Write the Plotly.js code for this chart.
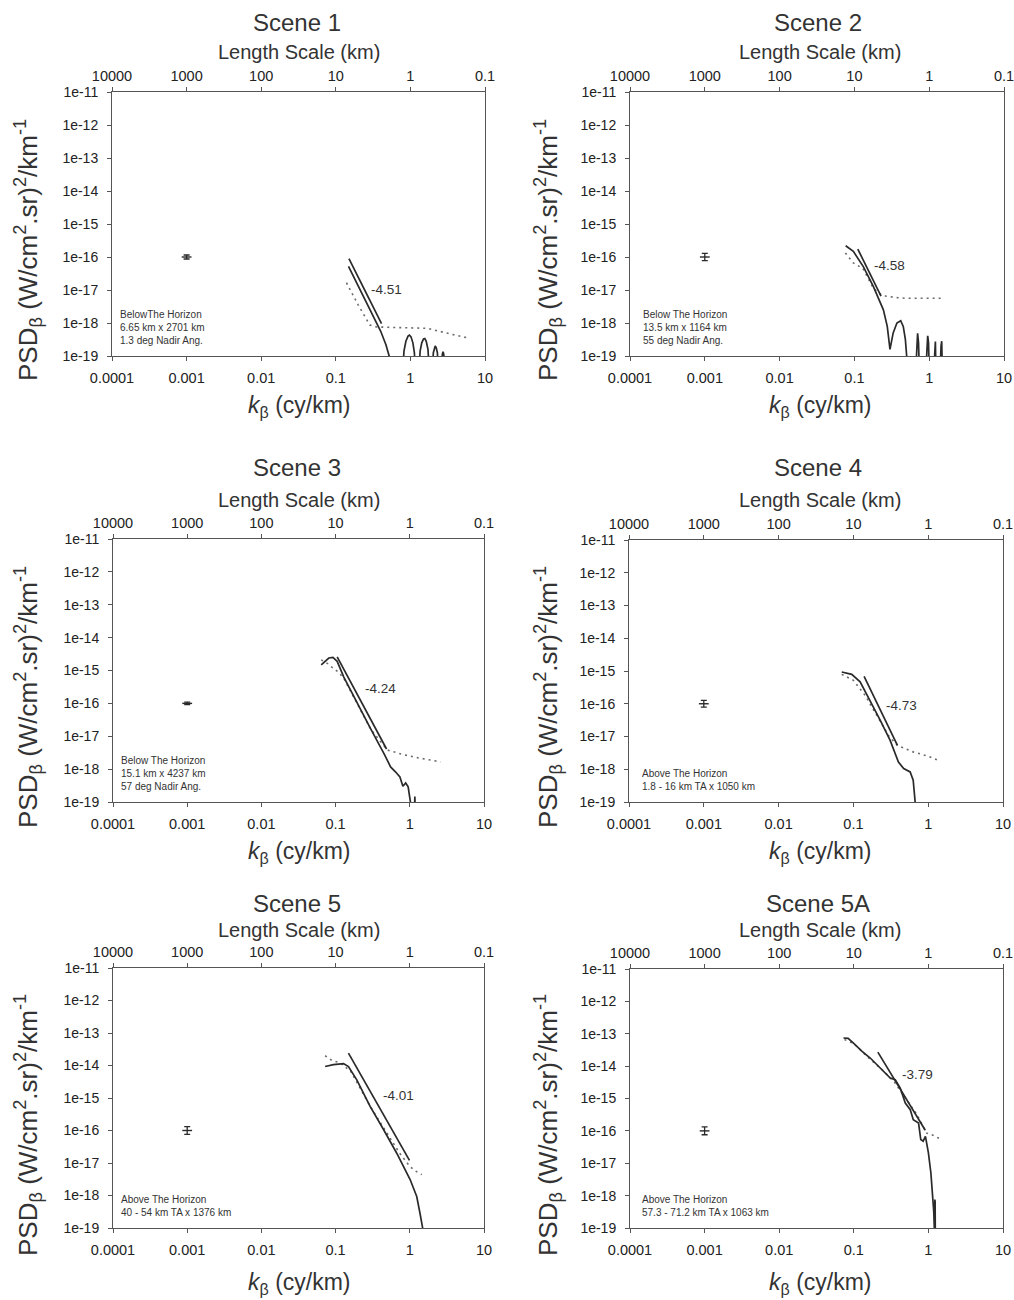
<!DOCTYPE html>
<html><head><meta charset="utf-8">
<script src="https://cdn.plot.ly/plotly-3.0.1.min.js"></script>
<style>html,body{margin:0;padding:0;background:#fff}#chart{width:1014px;height:1300px}</style>
</head><body><div id="chart"></div>
<script>
// ---------------- DATA ----------------
const sceneNames = ['Scene 1', 'Scene 2', 'Scene 3', 'Scene 4', 'Scene 5', 'Scene 5A'];
const slopeLabels = ['-4.51', '-4.58', '-4.24', '-4.73', '-4.01', '-3.79'];
const sceneNotes = [
  'BelowThe Horizon<br>6.65 km x 2701 km<br>1.3 deg Nadir Ang.',
  'Below The Horizon<br>13.5 km x 1164 km<br>55 deg Nadir Ang.',
  'Below The Horizon<br>15.1 km x 4237 km<br>57 deg Nadir Ang.',
  'Above The Horizon<br>1.8 - 16 km TA x 1050 km',
  'Above The Horizon<br>40 - 54 km TA x 1376 km',
  'Above The Horizon<br>57.3 - 71.2 km TA x 1063 km'
];
const kTickVals = [0.0001, 0.001, 0.01, 0.1, 1, 10];
const kTickText = ['0.0001', '0.001', '0.01', '0.1', '1', '10'];
const lengthTickText = ['10000', '1000', '100', '10', '1', '0.1'];
const psdTickVals = [1e-19, 1e-18, 1e-17, 1e-16, 1e-15, 1e-14, 1e-13, 1e-12, 1e-11];
const psdTickText = ['1e-19', '1e-18', '1e-17', '1e-16', '1e-15', '1e-14', '1e-13', '1e-12', '1e-11'];

// slope label positions (k, PSD)
const slopeLabelK = [0.48, 0.293, 0.40, 0.435, 0.70, 0.716];
const slopeLabelP = [1.05e-17, 5.4e-17, 2.9e-16, 8.9e-17, 1.17e-15, 5.5e-15];

// error-bar marker (k, PSD, +err, -err)
const errK = [0.001, 0.001, 0.001, 0.001, 0.001, 0.001];
const errP = [1e-16, 1e-16, 1e-16, 1e-16, 1e-16, 1e-16];
const errPlus = [1.5e-17, 2.9e-17, 9.6e-18, 2.6e-17, 3.2e-17, 3.2e-17];
const errMinus = [1.3e-17, 2.2e-17, 8.8e-18, 2.1e-17, 2.4e-17, 2.4e-17];

// Scene 1
const k1Fit = [0.15, 0.41];
const p1Fit = [8.9e-17, 9.5e-19];
const k1Psd = [0.148, 0.2, 0.3, 0.4, 0.47, 0.52, 0.60, 0.79, 0.82, 0.87, 0.93, 0.97, 1.02, 1.08, 1.13, 1.17, 1.30, 1.35, 1.42, 1.50, 1.56, 1.63, 1.72, 1.80, 1.97, 2.03, 2.10, 2.15, 2.22, 2.30, 2.37, 2.62, 2.68, 2.74, 2.80, 2.86];
const p1Psd = [5.2e-17, 1.35e-17, 2.2e-18, 5.6e-19, 2.2e-19, 8.9e-20, 3.2e-20, 3.2e-20, 1.41e-19, 2.8e-19, 4.0e-19, 4.3e-19, 3.8e-19, 2.5e-19, 1.26e-19, 3.2e-20, 3.2e-20, 1.41e-19, 2.5e-19, 3.3e-19, 3.4e-19, 2.8e-19, 1.58e-19, 3.2e-20, 3.2e-20, 1.26e-19, 1.86e-19, 2.0e-19, 1.78e-19, 1.26e-19, 3.2e-20, 3.2e-20, 1.12e-19, 1.35e-19, 1.12e-19, 3.2e-20];
const k1Dot = [0.139, 0.2, 0.286, 0.35, 0.5, 1.0, 1.7, 3.0, 6.3];
const p1Dot = [1.66e-17, 3.5e-18, 8.7e-19, 7.6e-19, 7.4e-19, 7.2e-19, 6.9e-19, 5.0e-19, 3.4e-19];

// Scene 2
const k2Fit = [0.111, 0.227];
const p2Fit = [1.74e-16, 6.5e-18];
const k2Psd = [0.0764, 0.0968, 0.1315, 0.179, 0.244, 0.275, 0.299, 0.33, 0.37, 0.416, 0.45, 0.48, 0.50, 0.53, 0.66, 0.68, 0.70, 0.72, 0.74, 0.90, 0.93, 0.955, 0.98, 1.00, 1.15, 1.19, 1.21, 1.23, 1.40, 1.44, 1.47, 1.50];
const p2Psd = [2.19e-16, 1.48e-16, 5.1e-17, 1.29e-17, 2.5e-18, 7.9e-19, 1.58e-19, 5.0e-19, 1.0e-18, 1.17e-18, 7.9e-19, 3.2e-19, 1.0e-19, 3.2e-20, 3.2e-20, 2.5e-19, 4.9e-19, 2.5e-19, 3.2e-20, 3.2e-20, 2.5e-19, 4.1e-19, 2.5e-19, 3.2e-20, 3.2e-20, 2.0e-19, 2.75e-19, 3.2e-20, 3.2e-20, 2.0e-19, 2.8e-19, 3.2e-20];
const k2Dot = [0.0758, 0.0968, 0.13, 0.18, 0.215, 0.26, 0.35, 0.5, 0.8, 1.1, 1.47];
const p2Dot = [1.32e-16, 6.6e-17, 4.5e-17, 1.12e-17, 7.9e-18, 6.6e-18, 5.9e-18, 5.6e-18, 5.6e-18, 5.6e-18, 5.6e-18];

// Scene 3
const k3Fit = [0.105, 0.486];
const p3Fit = [2.6e-15, 4.1e-18];
const k3Psd = [0.064, 0.072, 0.081, 0.092, 0.105, 0.129, 0.195, 0.296, 0.456, 0.551, 0.64, 0.736, 0.807, 0.88, 0.95, 1.0, 1.03, 1.1, 1.15, 1.17, 1.19, 1.25];
const p3Psd = [1.48e-15, 1.9e-15, 2.4e-15, 2.5e-15, 1.9e-15, 6.3e-16, 1.0e-16, 1.7e-17, 2.75e-18, 1.17e-18, 8.3e-19, 5.75e-19, 3.0e-19, 3.8e-19, 2.9e-19, 1.41e-19, 6.3e-20, 3.2e-20, 3.2e-20, 1.48e-19, 3.2e-20, 3.2e-20];
const k3Dot = [0.064, 0.08, 0.0955, 0.11, 0.13, 0.2, 0.3, 0.5, 0.8, 1.3, 2.0, 2.6];
const p3Dot = [2.1e-15, 1.58e-15, 1.1e-15, 8.9e-16, 5.6e-16, 8.9e-17, 1.58e-17, 3.8e-18, 2.8e-18, 2.2e-18, 1.9e-18, 1.66e-18];

// Scene 4
const k4Fit = [0.139, 0.388];
const p4Fit = [6.9e-16, 5.4e-18];
const k4Psd = [0.0698, 0.095, 0.123, 0.167, 0.227, 0.31, 0.40, 0.47, 0.574, 0.63, 0.66, 0.68, 0.70];
const p4Psd = [9.3e-16, 7.9e-16, 4.7e-16, 1.29e-16, 3.2e-17, 7.6e-18, 1.66e-18, 1.05e-18, 8.3e-19, 4.6e-19, 1.58e-19, 7.9e-20, 3.2e-20];
const k4Dot = [0.0698, 0.1, 0.143, 0.2, 0.3, 0.388, 0.6, 1.0, 1.37];
const p4Dot = [7.9e-16, 5.2e-16, 1.82e-16, 5.0e-17, 1.0e-17, 5.4e-18, 3.5e-18, 2.5e-18, 1.86e-18];

// Scene 5
const k5Fit = [0.149, 0.99];
const p5Fit = [2.4e-14, 1.2e-17];
const k5Psd = [0.0723, 0.0935, 0.128, 0.149, 0.193, 0.292, 0.442, 0.667, 1.01, 1.24, 1.37, 1.45, 1.49, 1.52];
const p5Psd = [9.3e-15, 1.07e-14, 1.15e-14, 9.3e-15, 3.6e-15, 5.5e-16, 1.07e-16, 2.0e-17, 3.1e-18, 9.3e-19, 2.9e-19, 1.41e-19, 1.0e-19, 3.2e-20];
const k5Dot = [0.0723, 0.09, 0.116, 0.16, 0.3, 0.5, 0.73, 1.0, 1.2, 1.45];
const p5Dot = [2.0e-14, 1.41e-14, 1.2e-14, 6.6e-15, 5.0e-16, 7.9e-17, 2.0e-17, 7.9e-18, 5.6e-18, 4.4e-18];

// Scene 5A
const k6Fit = [0.21, 0.908];
const p6Fit = [2.7e-14, 1.05e-16];
const k6Psd = [0.0728, 0.084, 0.099, 0.128, 0.166, 0.215, 0.265, 0.308, 0.359, 0.419, 0.49, 0.571, 0.627, 0.738, 0.79, 0.85, 0.913, 1.0, 1.08, 1.14, 1.18, 1.20, 1.21, 1.215, 1.22, 1.225, 1.23, 1.235, 1.24];
const p6Psd = [7.4e-14, 7.2e-14, 5.1e-14, 2.9e-14, 1.78e-14, 9.8e-15, 6.2e-15, 4.3e-15, 3.8e-15, 2.1e-15, 7.2e-16, 4.5e-16, 2.2e-16, 1.74e-16, 5.4e-17, 4.8e-17, 6.8e-17, 2.1e-17, 5.0e-18, 1.2e-18, 3.2e-19, 1.0e-19, 7.1e-19, 3.2e-20, 7.6e-19, 3.2e-20, 7.1e-19, 3.2e-20, 3.2e-20];
const k6Dot = [0.075, 0.1, 0.15, 0.25, 0.35, 0.5, 0.7, 0.95, 1.2, 1.44];
const p6Dot = [6.6e-14, 5.0e-14, 2.0e-14, 7.1e-15, 3.2e-15, 1.0e-15, 3.2e-16, 8.5e-17, 7.1e-17, 5.6e-17];

// ---------------- LAYOUT (positions in page pixels) ----------------
const W = 1014, H = 1300;
const boxes = [ // [left, right, top, bottom]
  [112, 485, 92, 356], [630, 1004, 92, 356],
  [113, 484, 539, 802], [629, 1003, 540, 802],
  [113, 484, 968, 1228], [630, 1003, 969, 1228]
];
const titlePos = [ // scene title (x,y), length title y, x-title y, y-title (x,y)
  {sx: 297, sy: 22, ly: 52, xty: 407, ytx: 28, yty: 250},
  {sx: 818, sy: 22, ly: 52, xty: 407, ytx: 548, yty: 250},
  {sx: 297, sy: 467, ly: 500, xty: 852, ytx: 28, yty: 697},
  {sx: 818, sy: 467, ly: 500, xty: 852, ytx: 548, yty: 697},
  {sx: 297, sy: 903, ly: 930, xty: 1283, ytx: 28, yty: 1125},
  {sx: 818, sy: 903, ly: 930, xty: 1283, ytx: 548, yty: 1125}
];
const noteX = [0.017, 0.03, 0.017, 0.029, 0.017, 0.027];

const series = [
  [k1Psd, p1Psd, k1Fit, p1Fit, k1Dot, p1Dot],
  [k2Psd, p2Psd, k2Fit, p2Fit, k2Dot, p2Dot],
  [k3Psd, p3Psd, k3Fit, p3Fit, k3Dot, p3Dot],
  [k4Psd, p4Psd, k4Fit, p4Fit, k4Dot, p4Dot],
  [k5Psd, p5Psd, k5Fit, p5Fit, k5Dot, p5Dot],
  [k6Psd, p6Psd, k6Fit, p6Fit, k6Dot, p6Dot]
];

const FONT = 'Liberation Sans, Arial, sans-serif';
const INK = '#2a2a2a';
const TXT = '#333333';
const px = v => v / W, py = v => 1 - v / H;

const traces = [];
const layout = {
  width: W, height: H, showlegend: false,
  margin: {l: 0, r: 0, t: 0, b: 0},
  paper_bgcolor: '#fff', plot_bgcolor: '#fff',
  font: {family: FONT, color: TXT},
  annotations: []
};

for (let i = 0; i < 6; i++) {
  const xb = 'x' + (2 * i + 1 === 1 ? '' : (2 * i + 1));
  const xt = 'x' + (2 * i + 2);
  const yy = 'y' + (i === 0 ? '' : (i + 1));
  const xbKey = 'xaxis' + (2 * i + 1 === 1 ? '' : (2 * i + 1));
  const xtKey = 'xaxis' + (2 * i + 2);
  const yKey = 'yaxis' + (i === 0 ? '' : (i + 1));
  const [L, R, T, B] = boxes[i];
  const dom = [px(L), px(R)];
  const [kP, pP, kF, pF, kD, pD] = series[i];

  traces.push({x: kD, y: pD, xaxis: xb, yaxis: yy, mode: 'lines', type: 'scatter',
    line: {color: '#6a6a6a', width: 1.6, dash: '2px,4px'}, hoverinfo: 'skip'});
  traces.push({x: kP, y: pP, xaxis: xb, yaxis: yy, mode: 'lines', type: 'scatter',
    line: {color: INK, width: 1.7}, hoverinfo: 'skip'});
  traces.push({x: kF, y: pF, xaxis: xb, yaxis: yy, mode: 'lines', type: 'scatter',
    line: {color: INK, width: 1.7}, hoverinfo: 'skip'});
  traces.push({x: [errK[i]], y: [errP[i]], xaxis: xb, yaxis: yy, mode: 'markers', type: 'scatter',
    marker: {symbol: 'line-ew-open', size: 7, color: INK, line: {color: INK, width: 1.4}},
    error_y: {type: 'data', symmetric: false, array: [errPlus[i]], arrayminus: [errMinus[i]],
      color: INK, thickness: 1.3, width: 3}, hoverinfo: 'skip'});
  traces.push({x: [], y: [], xaxis: xt, yaxis: yy, mode: 'lines', type: 'scatter', hoverinfo: 'skip'});

  const axCommon = {
    type: 'log', showgrid: false, zeroline: false, showline: true,
    linecolor: '#555', linewidth: 1, ticks: 'outside', ticklen: 4, tickcolor: '#555',
    ticklabeloverflow: 'allow',
    tickfont: {family: FONT, size: 14.5, color: '#222'}
  };
  layout[xbKey] = Object.assign({}, axCommon, {
    domain: dom, anchor: yy, range: [-4, 1],
    tickmode: 'array', tickvals: kTickVals, ticktext: kTickText, ticklabelstandoff: 5
  });
  layout[xtKey] = Object.assign({}, axCommon, {
    domain: dom, anchor: yy, overlaying: xb, side: 'top', range: [-4, 1],
    tickmode: 'array', tickvals: kTickVals, ticktext: lengthTickText
  });
  layout[yKey] = Object.assign({}, axCommon, {
    domain: [py(B), py(T)], anchor: xb, range: [-19, -11], mirror: true,
    tickmode: 'array', tickvals: psdTickVals, ticktext: psdTickText, ticklabelstandoff: 6,
    tickfont: {family: FONT, size: 14, color: '#222'}
  });

  const tp = titlePos[i];
  layout.annotations.push(
    {xref: 'paper', yref: 'paper', x: px(tp.sx), y: py(tp.sy), text: sceneNames[i], showarrow: false,
      xanchor: 'center', yanchor: 'middle', font: {family: FONT, size: 24, color: TXT}},
    {xref: 'paper', yref: 'paper', x: px(tp.sx + 2), y: py(tp.ly), text: 'Length Scale (km)', showarrow: false,
      xanchor: 'center', yanchor: 'middle', font: {family: FONT, size: 20, color: TXT}},
    {xref: 'paper', yref: 'paper', x: px(tp.sx + 2), y: py(tp.xty), text: '<i>k</i><sub>β</sub> (cy/km)', showarrow: false,
      xanchor: 'center', yanchor: 'middle', font: {family: FONT, size: 23, color: TXT}},
    {xref: 'paper', yref: 'paper', x: px(tp.ytx), y: py(tp.yty), textangle: -90,
      text: 'PSD<sub>β</sub> (W/cm<sup>2</sup>.sr)<sup>2</sup>/km<sup>-1</sup>', showarrow: false,
      xanchor: 'center', yanchor: 'middle', font: {family: FONT, size: 26, color: TXT}},
    {xref: xb, yref: yy, x: Math.log10(slopeLabelK[i]), y: Math.log10(slopeLabelP[i]), text: slopeLabels[i],
      showarrow: false, xanchor: 'center', yanchor: 'middle', font: {family: FONT, size: 13.5, color: TXT}},
    {xref: xb + ' domain', yref: yy + ' domain', x: noteX[i], y: 0.03, text: sceneNotes[i], showarrow: false,
      xanchor: 'left', yanchor: 'bottom', align: 'left', font: {family: FONT, size: 10, color: TXT}}
  );
}

Plotly.newPlot('chart', traces, layout, {staticPlot: true, displayModeBar: false});
</script></body></html>
